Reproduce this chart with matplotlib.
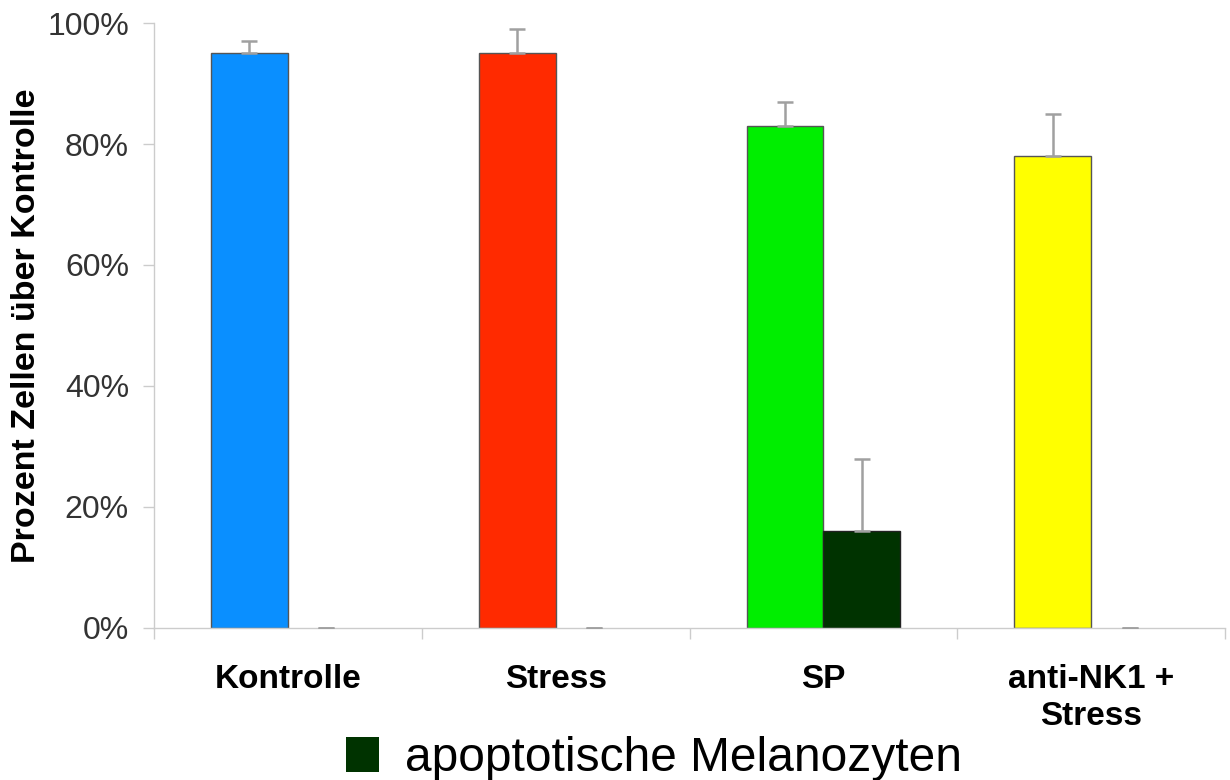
import matplotlib
matplotlib.use("Agg")
import matplotlib.pyplot as plt
from matplotlib.ticker import PercentFormatter
import numpy as np

plt.rcParams['font.family'] = ['Liberation Sans', 'DejaVu Sans']

categories = ["Kontrolle", "Stress", "SP", "anti-NK1 +\nStress"]
cells = [95, 95, 83, 78]
cells_err = [2, 4, 4, 7]
apoptotic = [0, 0, 16, 0]
apoptotic_err = [0, 0, 12, 0]
cell_colors = ["#0a8fff", "#ff2a00", "#00ee00", "#ffff00"]
apoptotic_color = "#003300"
legend_label = "apoptotische Melanozyten"
y_ticks = [0, 20, 40, 60, 80, 100]

fig = plt.figure(figsize=(12.3, 7.8), dpi=100)
ax = fig.add_axes([0.1252, 0.1949, 0.8708, 0.7756])

x = np.arange(len(categories))
w = 0.287
off = 0.1435

ax.bar(x - off, cells, width=w, color=cell_colors, edgecolor="#555555", linewidth=1.0, zorder=2)
apo_edges = ["#222222" if v > 0 else "none" for v in apoptotic]
ax.bar(x + off, apoptotic, width=w, color=apoptotic_color, edgecolor=apo_edges, linewidth=1.0,
       zorder=2, label=legend_label)

for xs, vals, errs in [(x - off, cells, cells_err), (x + off, apoptotic, apoptotic_err)]:
    eb = ax.errorbar(xs, vals, yerr=[np.zeros(len(vals)), errs], fmt="none",
                     ecolor="#a0a0a0", elinewidth=1.8, capsize=6, capthick=1.8, zorder=3)
    for cl in eb[1]:
        cl.set_color("#555555")

ax.set_xlim(-0.5, len(categories) - 0.5)
ax.set_ylim(0, 100)
ax.set_yticks(y_ticks)
ax.yaxis.set_major_formatter(PercentFormatter(decimals=0))
ax.set_xticks(x)
ax.set_xticklabels(categories, fontsize=24, fontweight="bold", linespacing=1.25)
ax.set_xticks(np.arange(len(categories) + 1) - 0.5, minor=True)
ax.tick_params(axis="x", which="major", length=0, pad=26)
ax.tick_params(axis="x", which="minor", length=8, color="#cccccc", width=1)
ax.tick_params(axis="y", length=8, color="#cccccc", width=1, labelsize=23, labelcolor="#333333", pad=10)

for s in ["top", "right"]:
    ax.spines[s].set_visible(False)
for s in ["left", "bottom"]:
    ax.spines[s].set_color("#cccccc")
    ax.spines[s].set_linewidth(1)

ax.set_ylabel("Prozent Zellen über Kontrolle", fontsize=24.5, fontweight="bold", labelpad=4)

handles, labels = ax.get_legend_handles_labels()
fig.legend(handles, labels, loc="center", bbox_to_anchor=(0.532, 0.027), frameon=False,
           fontsize=34.5, handlelength=0.68, handleheight=0.75, handletextpad=0.55,
           borderpad=0, borderaxespad=0)

fig.savefig("out.png", dpi=100, facecolor="white")
